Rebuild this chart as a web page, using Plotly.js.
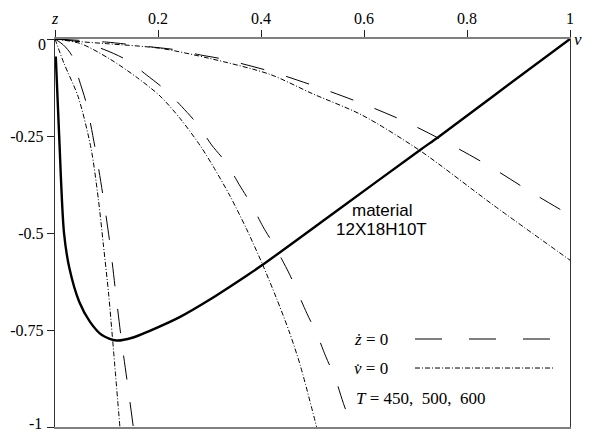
<!DOCTYPE html>
<html>
<head>
<meta charset="utf-8">
<script src="https://cdn.plot.ly/plotly-3.0.1.min.js"></script>
<style>html,body{margin:0;padding:0;background:#fff;}#chart{width:592px;height:434px;}</style>
</head>
<body>
<div id="chart"></div>
<script>
// ---- data (v on x axis, z on y axis) ----
// solid curve: material 12X18H10T
const solidV = [0.0015,0.008,0.0175,0.028,0.047,0.068,0.091,0.120,0.15,0.184,0.243,0.30,0.372,0.401,0.55,0.709,0.744,0.85,1.0];
const solidZ = [-0.045,-0.247,-0.5,-0.591,-0.677,-0.729,-0.763,-0.777,-0.770,-0.752,-0.716,-0.672,-0.610,-0.584,-0.440,-0.286,-0.253,-0.148,0];

// z-dot = 0 curves (dashed), three temperatures
const zdotV_1 = [0,0.016,0.032,0.047,0.060,0.078,0.094,0.107,0.118,0.129,0.142,0.152];
const zdotZ_1 = [0,-0.015,-0.041,-0.106,-0.162,-0.282,-0.411,-0.531,-0.655,-0.776,-0.900,-1.0];
const zdotV_2 = [0,0.05,0.097,0.139,0.178,0.214,0.246,0.278,0.304,0.333,0.358,0.382,0.404,0.427,0.456,0.489,0.508,0.526,0.544,0.560,0.577];
const zdotZ_2 = [0,-0.008,-0.028,-0.054,-0.093,-0.131,-0.174,-0.222,-0.273,-0.320,-0.376,-0.428,-0.484,-0.535,-0.608,-0.707,-0.759,-0.819,-0.874,-0.939,-1.0];
const zdotV_3 = [0,0.1,0.184,0.236,0.282,0.327,0.417,0.508,0.596,0.682,0.764,0.845,0.926,1.0];
const zdotZ_3 = [0,-0.008,-0.020,-0.028,-0.041,-0.052,-0.083,-0.123,-0.166,-0.214,-0.269,-0.329,-0.396,-0.454];

// v-dot = 0 curves (dash-dot), three temperatures
const vdotV_1 = [0,0.0175,0.045,0.070,0.084,0.094,0.104,0.112,0.126];
const vdotZ_1 = [0,-0.063,-0.149,-0.282,-0.411,-0.531,-0.655,-0.777,-1.0];
const vdotV_2 = [0,0.05,0.107,0.16,0.204,0.243,0.282,0.307,0.34,0.372,0.401,0.43,0.455,0.476,0.508];
const vdotZ_2 = [0,-0.012,-0.052,-0.100,-0.147,-0.205,-0.275,-0.328,-0.405,-0.49,-0.575,-0.668,-0.755,-0.84,-1.0];
const vdotV_3 = [0,0.05,0.1,0.204,0.3,0.417,0.5,0.596,0.709,0.851,1.0];
const vdotZ_3 = [0,-0.007,-0.012,-0.024,-0.05,-0.091,-0.141,-0.196,-0.288,-0.428,-0.570];

const xTickVals = [0,0.2,0.4,0.6,0.8,1];
const xTickText = ['<i>z</i>','0.2','0.4','0.6','0.8','1'];
const yTickVals = [-1,-0.75,-0.5,-0.25,0];
const yTickText = ['','-0.75','-0.5','-0.25',''];

const legendZdot = '<i>\u017C</i> = 0';
const legendVdot = '<i>v\u0307</i> = 0';
const legendT = '<i>T</i> = 450,\u00a0 500,\u00a0 600';
const materialLine1 = 'material';
const materialLine2 = '12X18H10T';

// ---- styles ----
const DASH = '24px,23px';
const DASHDOT = '5px,2px,1px,2px';
const serif = 'Liberation Serif';
const sans = 'Liberation Sans';

function curve(x, y, dash, width) {
  return {x: x, y: y, type: 'scatter', mode: 'lines',
    line: {color: '#000', width: width, dash: dash, shape: 'spline', smoothing: 0.8},
    hoverinfo: 'skip', showlegend: false};
}

const traces = [
  curve(zdotV_1, zdotZ_1, DASH, 1),
  curve(zdotV_2, zdotZ_2, DASH, 1),
  curve(zdotV_3, zdotZ_3, DASH, 1),
  curve(vdotV_1, vdotZ_1, DASHDOT, 1),
  curve(vdotV_2, vdotZ_2, DASHDOT, 1),
  curve(vdotV_3, vdotZ_3, DASHDOT, 1),
  curve(solidV, solidZ, 'solid', 2.4)
];

const layout = {
  width: 592, height: 434,
  margin: {l: 55, r: 22, t: 39, b: 7, pad: 0},
  paper_bgcolor: '#fff', plot_bgcolor: '#fff',
  showlegend: false,
  font: {family: serif, color: '#000'},
  xaxis: {
    side: 'top', range: [0, 1], tickvals: xTickVals, ticktext: xTickText,
    ticks: 'outside', ticklen: 7, tickwidth: 1, tickcolor: '#222',
    showline: true, linecolor: '#808080', linewidth: 2, mirror: true,
    showgrid: false, zeroline: false,
    tickfont: {family: serif, size: 16, color: '#000'}
  },
  yaxis: {
    range: [-1, 0], tickvals: yTickVals, ticktext: yTickText,
    ticks: 'outside', ticklen: 7, tickwidth: 1, tickcolor: '#222',
    showline: true, linecolor: '#333', linewidth: 1.2, mirror: true,
    showgrid: false, zeroline: false,
    tickfont: {family: serif, size: 16, color: '#000'}
  },
  shapes: [
    {type: 'line', xref: 'paper', yref: 'paper', x0: 0.699, x1: 0.961, y0: 0.2268, y1: 0.2268,
     line: {color: '#000', width: 1, dash: '27px,27px'}},
    {type: 'line', xref: 'paper', yref: 'paper', x0: 0.699, x1: 0.967, y0: 0.152, y1: 0.152,
     line: {color: '#000', width: 1, dash: DASHDOT}}
  ],
  annotations: [
    {xref: 'paper', yref: 'paper', x: -0.0136, y: 0.987, xanchor: 'right', yanchor: 'middle',
     text: '0', showarrow: false, font: {family: serif, size: 16, color: '#000'}},
    {xref: 'paper', yref: 'paper', x: -0.0214, y: 0.0085, xanchor: 'right', yanchor: 'middle',
     text: '-1', showarrow: false, font: {family: serif, size: 16, color: '#000'}},
    {xref: 'paper', yref: 'paper', x: 1.004, y: 1.0, xanchor: 'left', yanchor: 'middle',
     text: '<i>v</i>', showarrow: false, font: {family: serif, size: 17, color: '#000'}},
    {xref: 'paper', yref: 'paper', x: 0.634, y: 0.559, xanchor: 'center', yanchor: 'middle',
     text: materialLine1, showarrow: false, font: {family: sans, size: 17, color: '#000'}},
    {xref: 'paper', yref: 'paper', x: 0.634, y: 0.508, xanchor: 'center', yanchor: 'middle',
     text: materialLine2, showarrow: false, font: {family: sans, size: 17, color: '#000'}},
    {xref: 'paper', yref: 'paper', x: 0.577, y: 0.2268, xanchor: 'left', yanchor: 'middle',
     text: legendZdot, showarrow: false, font: {family: serif, size: 17, color: '#000'}},
    {xref: 'paper', yref: 'paper', x: 0.577, y: 0.152, xanchor: 'left', yanchor: 'middle',
     text: legendVdot, showarrow: false, font: {family: serif, size: 17, color: '#000'}},
    {xref: 'paper', yref: 'paper', x: 0.581, y: 0.0747, xanchor: 'left', yanchor: 'middle',
     text: legendT, showarrow: false, font: {family: serif, size: 17, color: '#000'}}
  ]
};

Plotly.newPlot('chart', traces, layout, {staticPlot: true, displayModeBar: false});
</script>
</body>
</html>
